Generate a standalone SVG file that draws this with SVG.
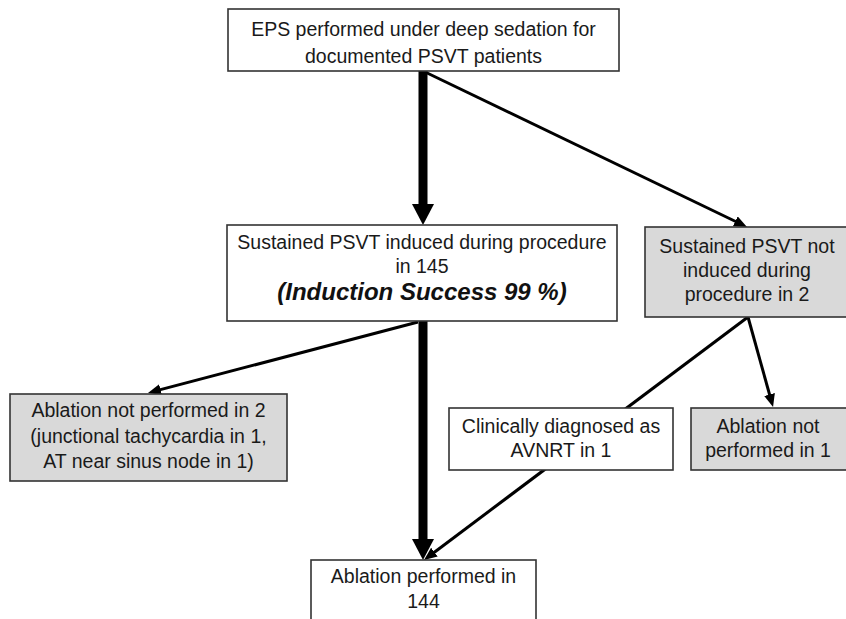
<svg xmlns="http://www.w3.org/2000/svg" width="846" height="619" viewBox="0 0 846 619">
<defs>
<style>
.box{fill:#ffffff;stroke:#333333;stroke-width:1.6}
.grey{fill:#d9d9d9;stroke:#333333;stroke-width:1.6}
.t{font-family:"Liberation Sans",Arial,sans-serif;font-size:19.5px;fill:#1a1a1a;text-anchor:middle}
.big{font-family:"Liberation Sans",Arial,sans-serif;font-size:24px;font-weight:bold;font-style:italic;fill:#111111;text-anchor:middle}
.thin{stroke:#000000;stroke-width:3;fill:none}
.thick{stroke:#000000;stroke-width:9;fill:none}
</style>
<marker id="ah" markerUnits="userSpaceOnUse" markerWidth="14" markerHeight="12" refX="5" refY="5.5" orient="auto">
<path d="M0,0 L13,5.5 L0,11 z" fill="#000000"/>
</marker>
<marker id="ahb" markerUnits="userSpaceOnUse" markerWidth="22" markerHeight="23" refX="0" refY="11" orient="auto">
<path d="M0,0 L21,11 L0,22 z" fill="#000000"/>
</marker>
</defs>
<rect width="846" height="619" fill="#ffffff"/>
<g id="connectors">
<line class="thick" x1="423" y1="71" x2="423" y2="204" marker-end="url(#ahb)"/>
<line class="thin" x1="423" y1="71" x2="739.8" y2="223.5" marker-end="url(#ah)"/>
<line class="thick" x1="423" y1="321" x2="423" y2="539" marker-end="url(#ahb)"/>
<line class="thin" x1="418" y1="322" x2="155.7" y2="390.9" marker-end="url(#ah)"/>
<line class="thin" x1="748" y1="317" x2="770.9" y2="399.3" marker-end="url(#ah)"/>
<line class="thin" x1="748" y1="317" x2="430.4" y2="555.2" marker-end="url(#ah)"/>
</g>
<g id="n_eps">
<rect class="box" x="228" y="9" width="391" height="62"/>
<text class="t" x="423.5" y="36">EPS performed under deep sedation for</text>
<text class="t" x="423.5" y="63">documented PSVT patients</text>
</g>
<g id="n_induced">
<rect class="box" x="227" y="225" width="390" height="96"/>
<text class="t" x="422" y="249">Sustained PSVT induced during procedure</text>
<text class="t" x="422" y="273">in 145</text>
<text class="big" x="422" y="300">(Induction Success 99 %)</text>
</g>
<g id="n_not_induced">
<rect class="grey" x="645" y="227" width="210" height="90"/>
<text class="t" x="747" y="253">Sustained PSVT not</text>
<text class="t" x="747" y="277">induced during</text>
<text class="t" x="747" y="301">procedure in 2</text>
</g>
<g id="n_abl_not_2">
<rect class="grey" x="10" y="394" width="277" height="87"/>
<text class="t" x="148.5" y="417">Ablation not performed in 2</text>
<text class="t" x="148.5" y="443">(junctional tachycardia in 1,</text>
<text class="t" x="148.5" y="468">AT near sinus node in 1)</text>
</g>
<g id="n_clinical">
<rect class="box" x="449" y="408" width="224" height="62"/>
<text class="t" x="561" y="433">Clinically diagnosed as</text>
<text class="t" x="561" y="457">AVNRT in 1</text>
</g>
<g id="n_abl_not_1">
<rect class="grey" x="691" y="408" width="165" height="62"/>
<text class="t" x="768" y="433">Ablation not</text>
<text class="t" x="768" y="457">performed in 1</text>
</g>
<g id="n_abl_144">
<rect class="box" x="311" y="560" width="225" height="70"/>
<text class="t" x="423.5" y="583">Ablation performed in</text>
<text class="t" x="423.5" y="608">144</text>
</g>
</svg>
